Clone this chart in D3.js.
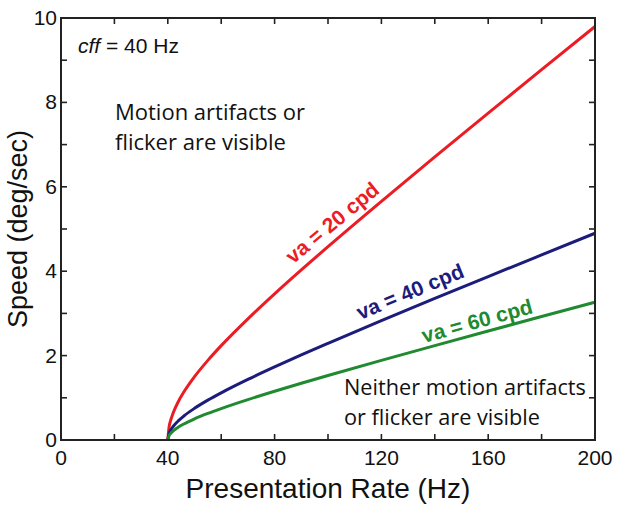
<!DOCTYPE html>
<html>
<head>
<meta charset="utf-8">
<script src="https://cdn.jsdelivr.net/npm/d3@7"></script>
<style>
  body { margin: 0; background: #fff; }
  svg text { font-family: Arial, "Liberation Sans", Helvetica, sans-serif; }
  svg text.note { font-family: "Open Sans", "Noto Sans", sans-serif; }
</style>
</head>
<body>
<div id="canvas"></div>
<script>
// DATA
const rate = [40, 40.5, 41, 42, 44, 46, 50, 55, 60, 70, 80, 90, 100, 120, 140, 160, 180, 200];
const va20 = [0, 0.317, 0.45, 0.64, 0.917, 1.136, 1.5, 1.887, 2.236, 2.872, 3.464, 4.031, 4.583, 5.657, 6.708, 7.746, 8.775, 9.798];
const va40 = [0, 0.158, 0.225, 0.32, 0.458, 0.568, 0.75, 0.944, 1.118, 1.436, 1.732, 2.016, 2.291, 2.828, 3.354, 3.873, 4.387, 4.899];
const va60 = [0, 0.106, 0.15, 0.213, 0.306, 0.379, 0.5, 0.629, 0.745, 0.957, 1.155, 1.344, 1.528, 1.886, 2.236, 2.582, 2.925, 3.266];
const flatRate = [10, 40];
const flatSpeed = [0, 0];
const xTicks = [0, 40, 80, 120, 160, 200];
const yTicks = [0, 2, 4, 6, 8, 10];
const seriesNames = ["va = 20 cpd", "va = 40 cpd", "va = 60 cpd"];
const labelAt = [[102, 5.12], [131, 3.48], [156, 2.78]];

// DIMENSIONS
const width = 621;
const height = 508;
const margin = { top: 18, right: 26, bottom: 68, left: 61 };
const plot_width = width - margin.left - margin.right;
const plot_height = height - margin.top - margin.bottom;

const svg = d3.select("#canvas").append("svg")
  .attr("width", width)
  .attr("height", height);

const plot = svg.append("g")
  .attr("transform", `translate(${margin.left}, ${margin.top})`);

// SCALES
const xScale = d3.scaleLinear().domain([0, 200]).range([0, plot_width]);
const yScale = d3.scaleLinear().domain([0, 10]).range([plot_height, 0]);
const colors = ["#ec1c24", "#1c1c7c", "#208a30"];

// TICKS (inward, on all four sides)
const tickLen = 6;
const xMinor = d3.range(20, 200, 20);
const yMinor = d3.range(1, 10, 1);
const ticks = plot.append("g").attr("stroke", "#222").attr("stroke-width", 1.6);
xMinor.forEach(t => {
  ticks.append("line").attr("x1", xScale(t)).attr("x2", xScale(t))
    .attr("y1", plot_height).attr("y2", plot_height - tickLen);
  ticks.append("line").attr("x1", xScale(t)).attr("x2", xScale(t))
    .attr("y1", 0).attr("y2", tickLen);
});
yMinor.forEach(t => {
  ticks.append("line").attr("y1", yScale(t)).attr("y2", yScale(t))
    .attr("x1", 0).attr("x2", tickLen);
  ticks.append("line").attr("y1", yScale(t)).attr("y2", yScale(t))
    .attr("x1", plot_width).attr("x2", plot_width - tickLen);
});

// LINES
const line = d3.line()
  .x(d => xScale(d[0]))
  .y(d => yScale(d[1]))
  .curve(d3.curveMonotoneX);

plot.append("path")
  .datum(flatRate.map((r, i) => [r, flatSpeed[i]]))
  .attr("d", line)
  .attr("fill", "none")
  .attr("stroke", "#d4502a")
  .attr("stroke-width", 2);

[va20, va40, va60].forEach((s, k) => {
  plot.append("path")
    .datum(rate.map((r, i) => [r, s[i]]))
    .attr("d", line)
    .attr("fill", "none")
    .attr("stroke", colors[k])
    .attr("stroke-width", 3);
});

// FRAME
plot.append("rect")
  .attr("width", plot_width)
  .attr("height", plot_height)
  .attr("fill", "none")
  .attr("stroke", "#222")
  .attr("stroke-width", 2);

// TICK LABELS
plot.append("g").selectAll("text")
  .data(xTicks).join("text")
  .attr("x", d => xScale(d))
  .attr("y", plot_height + 25)
  .attr("text-anchor", "middle")
  .attr("font-size", 21)
  .attr("fill", "#111")
  .text(d => d);

plot.append("g").selectAll("text")
  .data(yTicks).join("text")
  .attr("x", -4)
  .attr("y", d => yScale(d) + 7)
  .attr("text-anchor", "end")
  .attr("font-size", 21)
  .attr("fill", "#111")
  .text(d => d);

// AXIS LABELS
plot.append("text")
  .attr("x", plot_width / 2)
  .attr("y", plot_height + 58)
  .attr("text-anchor", "middle")
  .attr("font-size", 28)
  .attr("fill", "#111")
  .text("Presentation Rate (Hz)");

plot.append("text")
  .attr("transform", `translate(${-34}, ${plot_height / 2}) rotate(-90)`)
  .attr("text-anchor", "middle")
  .attr("font-size", 27)
  .attr("fill", "#111")
  .text("Speed (deg/sec)");

// SERIES LABELS
seriesNames.forEach((name, k) => {
  const s = [va20, va40, va60][k];
  const i0 = rate.indexOf(120), i1 = rate.indexOf(160);
  const dx = xScale(rate[i1]) - xScale(rate[i0]);
  const dy = yScale(s[i1]) - yScale(s[i0]);
  const ang = Math.atan2(dy, dx) * 180 / Math.PI;
  plot.append("text")
    .attr("transform", `translate(${xScale(labelAt[k][0])}, ${yScale(labelAt[k][1])}) rotate(${ang})`)
    .attr("text-anchor", "middle")
    .attr("dominant-baseline", "middle")
    .attr("font-size", 21)
    .attr("font-weight", "bold")
    .attr("fill", colors[k])
    .text(name);
});

// NOTES
const cff = plot.append("text")
  .attr("x", 17)
  .attr("y", 35)
  .attr("font-size", 21)
  .attr("fill", "#111");
cff.append("tspan").attr("font-style", "italic").text("cff");
cff.append("tspan").text(" = 40 Hz");

const note1 = ["Motion artifacts or", "flicker are visible"];
const note2 = ["Neither motion artifacts", "or flicker are visible"];
note1.forEach((t, i) => {
  plot.append("text").attr("class", "note")
    .attr("x", 54).attr("y", 102 + i * 30)
    .attr("font-size", 22).attr("fill", "#111").text(t);
});
note2.forEach((t, i) => {
  plot.append("text").attr("class", "note")
    .attr("x", 283).attr("y", 377 + i * 30)
    .attr("font-size", 21.7).attr("fill", "#111").text(t);
});
</script>
</body>
</html>
